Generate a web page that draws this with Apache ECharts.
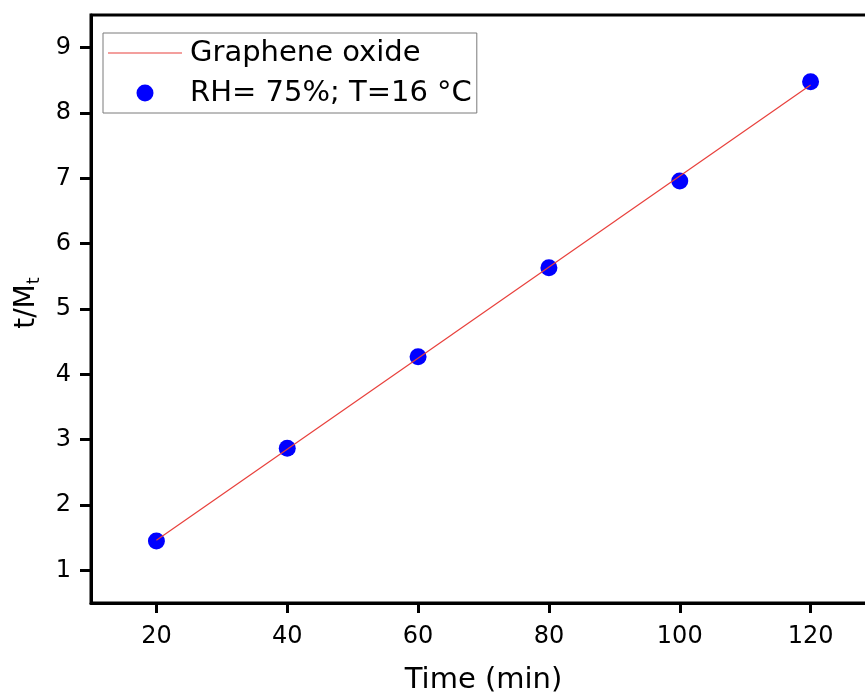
<!DOCTYPE html>
<html>
<head>
<meta charset="utf-8">
<script src="https://cdn.jsdelivr.net/npm/echarts@6/dist/echarts.min.js"></script>
<style>
html,body{margin:0;padding:0;background:#fff;}
#chart{width:865px;height:696px;}
</style>
</head>
<body>
<div id="chart"></div>
<script>
// Data
const timeMin = [20, 40, 60, 80, 100, 120];
const tOverMt = [1.45, 2.87, 4.27, 5.63, 6.96, 8.48];
// Linear fit endpoints (Graphene oxide)
const fitX = [20, 120];
const fitY = [1.46, 8.43];
// Tick labels
const xTicks = [20, 40, 60, 80, 100, 120];
const yTicks = [1, 2, 3, 4, 5, 6, 7, 8, 9];

const FONT = 'DejaVu Sans';

const chart = echarts.init(document.getElementById('chart'), null, {renderer: 'canvas'});

const option = {
  backgroundColor: '#ffffff',
  animation: false,
  grid: {
    left: 91, top: 15, width: 785, height: 588,
    containLabel: false,
    outerBoundsMode: 'none',
    show: true, borderColor: '#000', borderWidth: 3, backgroundColor: 'transparent'
  },
  legend: {
    orient: 'vertical',
    left: 103, top: 33,
    padding: [5, 5, 5, 5],
    itemWidth: 74, itemHeight: 17, itemGap: 10,
    borderColor: '#7a7a7a', borderWidth: 1,
    backgroundColor: '#fff',
    textStyle: {fontFamily: FONT, fontSize: 29, color: '#000', lineHeight: 30, padding: [0, 0, 0, 3]},
    data: [
      {name: 'Graphene oxide', icon: 'path://M0,0 L74,0 L74,1.2 L0,1.2 Z'},
      {name: 'RH= 75%; T=16 °C', icon: 'circle'}
    ]
  },
  xAxis: {
    type: 'value',
    min: 10, max: 130,
    name: 'Time (min)',
    nameLocation: 'middle',
    nameGap: 63,
    nameTextStyle: {fontFamily: FONT, fontSize: 29, color: '#000'},
    axisLine: {show: true, onZero: false, lineStyle: {color: '#000', width: 3}},
    axisTick: {show: true, length: 10, lineStyle: {color: '#000', width: 3}, customValues: xTicks},
    axisLabel: {fontFamily: FONT, fontSize: 24, color: '#000', margin: 22, customValues: xTicks},
    splitLine: {show: false}
  },
  yAxis: {
    type: 'value',
    min: 0.5, max: 9.5,
    name: '{a|t/M}{b|t}',
    nameLocation: 'middle',
    nameGap: 48,
    nameTextStyle: {
      fontFamily: FONT, color: '#000',
      padding: [0, 0, 0, 12],
      rich: {
        a: {fontFamily: FONT, fontSize: 28, color: '#000', lineHeight: 32},
        b: {fontFamily: FONT, fontSize: 18, color: '#000', padding: [14, 0, 0, 0]}
      }
    },
    axisLine: {show: true, onZero: false, lineStyle: {color: '#000', width: 3}},
    axisTick: {show: true, length: 11, lineStyle: {color: '#000', width: 3}, customValues: yTicks},
    axisLabel: {fontFamily: FONT, fontSize: 24, color: '#000', margin: 20, customValues: yTicks},
    splitLine: {show: false}
  },
  series: [
    {
      name: 'Graphene oxide',
      type: 'line',
      data: fitX.map((x, i) => [x, fitY[i]]),
      symbol: 'none',
      lineStyle: {color: '#e8403c', width: 1.2},
      itemStyle: {color: '#e8403c'},
      z: 5
    },
    {
      name: 'RH= 75%; T=16 °C',
      type: 'scatter',
      data: timeMin.map((x, i) => [x, tOverMt[i]]),
      symbol: 'circle',
      symbolSize: 17,
      itemStyle: {color: '#0000ff', opacity: 1},
      z: 3
    }
  ]
};
chart.setOption(option);
</script>
</body>
</html>
